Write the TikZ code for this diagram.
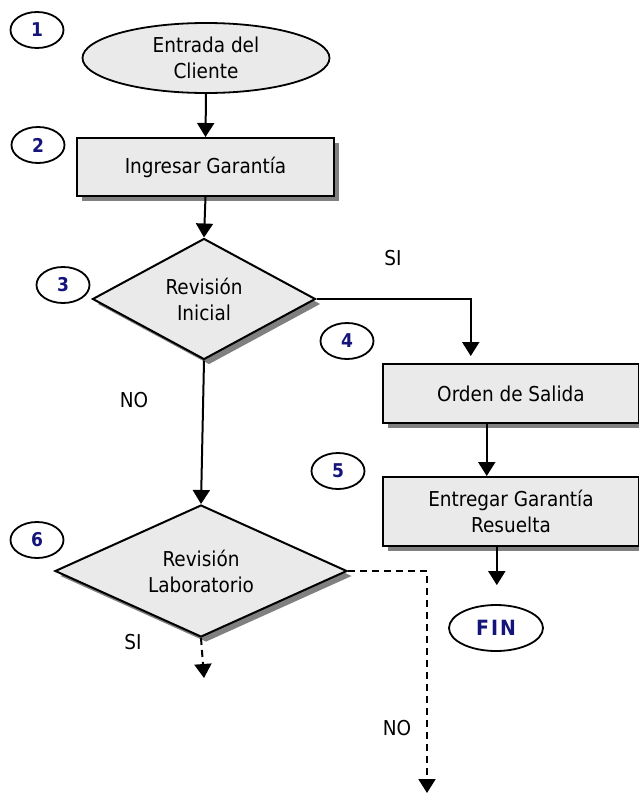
\documentclass[tikz,border=0pt]{standalone}
\usepackage{fontspec}
\setmainfont{DejaVu Sans Condensed}
\usetikzlibrary{shapes.geometric,shadows,arrows.meta,calc}
\definecolor{boxfill}{HTML}{EAEAEA}
\definecolor{shadowgray}{HTML}{808080}
\definecolor{numblue}{HTML}{14147A}
\begin{document}
\begin{tikzpicture}[x=1pt,y=-1pt,
  every node/.style={font=\fontsize{20.5}{26}\selectfont, align=center},
  shapebox/.style={draw=black, line width=2pt, fill=boxfill,
    drop shadow={shadow xshift=5pt, shadow yshift=-5pt, fill=shadowgray, opacity=1}},
  procbox/.style={shapebox, rectangle, inner sep=0pt},
  decbox/.style={shapebox, diamond, inner sep=0pt},
  startbox/.style={draw=black, line width=1.8pt, fill=boxfill, ellipse, inner sep=0pt},
  numcirc/.style={draw=black, line width=1.8pt, ellipse, minimum width=53pt, minimum height=36pt,
    inner sep=0pt, text=numblue, font=\fontsize{19}{22}\selectfont\bfseries},
  finbox/.style={draw=black, line width=1.8pt, ellipse, minimum width=94pt, minimum height=46pt,
    inner sep=0pt, text=numblue, font=\fontsize{21}{24}\selectfont\bfseries},
  flow/.style={line width=2pt, -{Triangle[width=17pt,length=14pt]}},
  dflow/.style={flow, dash pattern=on 7pt off 5pt},
  lbl/.style={font=\fontsize{20.5}{24}\selectfont}
]
\useasboundingbox (0,0) rectangle (639,795);
\clip (0,0) rectangle (639,795);

% numbered circles
\node[numcirc] (c1) at (37,30) {1};
\node[numcirc] (c2) at (38,145) {2};
\node[numcirc] (c3) at (63,285) {3};
\node[numcirc] (c4) at (347,341) {4};
\node[numcirc] (c5) at (338,471) {5};
\node[numcirc] (c6) at (37,540) {6};

% main shapes
\node[startbox, minimum width=247pt, minimum height=70pt] (e1) at (206,58) {Entrada del\\Cliente};
\node[procbox, minimum width=257pt, minimum height=58pt] (b2) at (205.5,167) {Ingresar Garantía};
\node[decbox, minimum width=223pt, minimum height=121pt,
  label={[name=t3]center:Revisión\\Inicial}] (d3) at (204,299) {};
\node[procbox, minimum width=256pt, minimum height=59pt] (b4) at (511,393.5) {Orden de Salida};
\node[procbox, minimum width=256pt, minimum height=69pt] (b5) at (511,511.5) {Entregar Garantía\\Resuelta};
\node[finbox] (fin) at (496,628) {F\kern2pt I\kern2pt N};
\node[decbox, minimum width=292pt, minimum height=132pt,
  label={[name=t6]center:Revisión\\Laboratorio}] (d6) at (201,571) {};

% anchor points on box edges
\coordinate (p3) at ($(b4.north west)!0.344!(b4.north east)$);
\coordinate (p4s) at ($(b4.south west)!0.406!(b4.south east)$);
\coordinate (p5n) at ($(b5.north west)!0.406!(b5.north east)$);
\coordinate (p5s) at ($(b5.south west)!0.445!(b5.south east)$);

% free ends
\coordinate (e6s) at (204,678);
\coordinate (e6e) at (427,793);

% connectors
\draw[flow] (e1.south) -- (b2.north);
\draw[flow] (b2.south) -- (d3.north);
\draw[flow, shorten >=7pt] (d3.east) -| (p3);
\draw[flow] (d3.south) -- (d6.north);
\draw[flow] (p4s) -- (p5n);
\draw[flow, shorten >=19pt] (p5s) -- (p5s |- fin.north);
\draw[dflow] (d6.south) -- (e6s);
\draw[dflow] (d6.east) -| (e6e);

% labels
\node[lbl] (l1) at (393,258) {SI};
\node[lbl] (l2) at (134,400) {NO};
\node[lbl] (l3) at (133,642) {SI};
\node[lbl] (l4) at (397,728) {NO};
\end{tikzpicture}
\end{document}
